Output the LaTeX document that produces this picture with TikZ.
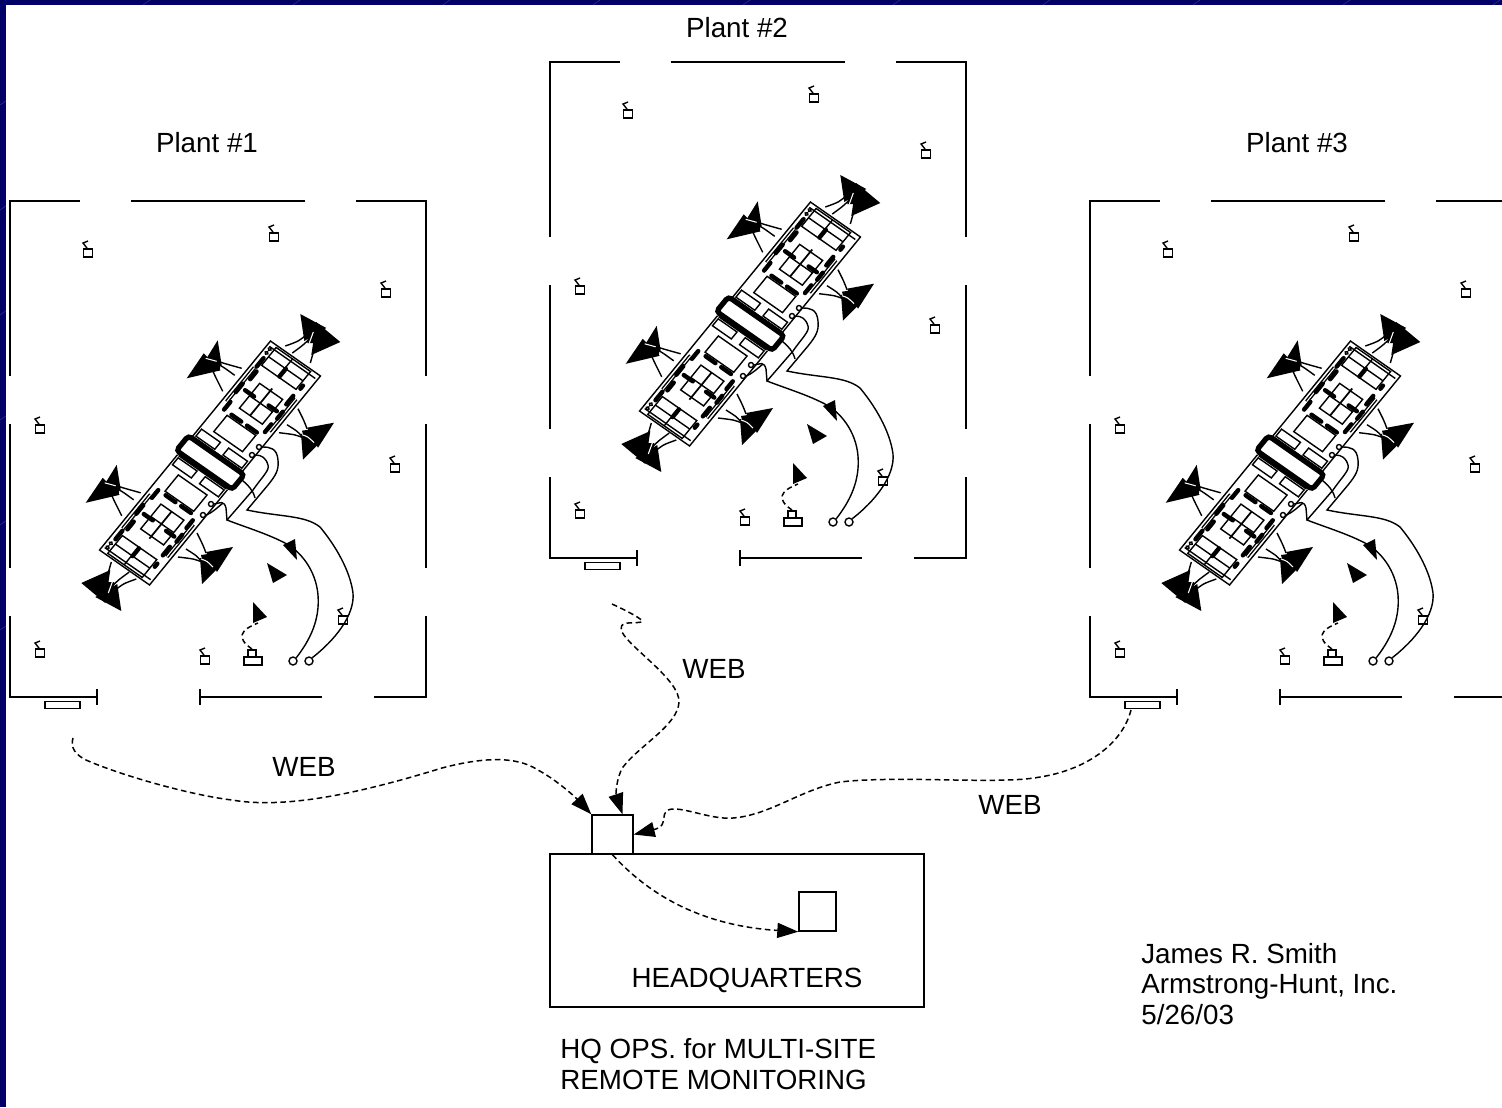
\documentclass[tikz,border=0pt]{standalone}
\usepackage{fontspec}
\setmainfont{Liberation Sans}
\usetikzlibrary{arrows.meta}
\definecolor{slidenavy}{RGB}{0,0,102}
\definecolor{slidestreak}{RGB}{50,50,140}
\tikzset{
  wire/.style={line width=.8pt},
  thinwire/.style={line width=.8pt},
  pill/.style={line width=2.5pt, line cap=round},
  webline/.style={line width=.85pt, dash pattern=on 3.2pt off 2pt,
    -{Triangle[length=.42cm, width=.3cm]}},
  hmiline/.style={line width=.85pt, dash pattern=on 3pt off 2pt},
  tagtext/.style={font=\fontsize{15.8}{17.6}\selectfont, inner sep=0pt},
  sensor/.style={draw, circle, line width=.8pt, minimum size=.16cm, inner sep=0pt},
  port/.style={draw, circle, line width=.8pt, fill=white, minimum size=.1cm, inner sep=0pt},
  consolebox/.style={draw, line width=.8pt, minimum width=.7cm, minimum height=.15cm, inner sep=0pt},
  camera/.pic={
    \draw[thinwire] (-4.5,-4) rectangle (4.5,4);
    \draw[thinwire] (0,-12) -- (-5,-10) -- (-1,-5);
  },
  fanleft/.pic={
    \fill (6,-23) -- (10,2) -- (-7,-2) -- cycle;
    \fill (-25,15) -- (-8,-10) -- (9,7) -- cycle;
    \fill (-6,-6) -- (9,0) -- (8,7) -- (-4,8) -- cycle;
    \draw[wire] (3,-3) .. controls (12,0) .. (30,5);
    \draw[wire] (5,0) .. controls (12,4) .. (23,12);
    \draw[wire] (-1,3) .. controls (3,12) .. (11,28);
    \draw[white, line width=.6pt] (-6,-5) .. controls (0,-4) .. (5,-2);
  },
  fanright/.pic={
    \fill (24,-14) -- (-3,-9) -- (8,11) -- cycle;
    \fill (-7,23) -- (-9,-3) -- (13,3) -- cycle;
    \fill (-8,-6) -- (6,-8) -- (8,6) -- (-4,10) -- cycle;
    \draw[wire] (-5,2) .. controls (-14,-2) .. (-31,-4);
    \draw[wire] (-8,0) .. controls (-12,-5) .. (-23,-12);
    \draw[wire] (-3,-8) .. controls (-6,-16) .. (-12,-28);
    \draw[white, line width=.6pt] (-8,-2) .. controls (-2,0) .. (4,6);
  },
  fanend/.pic={
    \fill (-13,-21) -- (13,-7) -- (-9,6) -- cycle;
    \fill (27,7) -- (3,-13) -- (-2,20) -- cycle;
    \fill (-4,-8) -- (8,-6) -- (6,8) -- (-6,8) -- cycle;
    \draw[wire] (-5,-2) .. controls (-14,6) .. (-28,11);
    \draw[wire] (-3,3) .. controls (-10,10) .. (-21,18);
    \draw[wire] (3,3) .. controls (1,14) .. (-3,28);
    \draw[white, line width=.6pt] (0,-3) .. controls (-2,2) .. (-4,8);
  },
  plant/.pic={
    % walls
    \draw[wire] (10,376) -- (10,201) -- (80,201);
    \draw[wire] (131,201) -- (305,201);
    \draw[wire] (356,201) -- (426,201) -- (426,376);
    \draw[wire] (10,424) -- (10,568);
    \draw[wire] (426,424) -- (426,568);
    \draw[wire] (10,616) -- (10,697) -- (97,697);
    \draw[wire] (97,689) -- (97,705);
    \draw[wire] (200,689) -- (200,705);
    \draw[wire] (200,697) -- (322,697);
    \draw[wire] (374,697) -- (426,697) -- (426,616);
    \node[consolebox] (-console) at (62.5,705) {};
    % cameras
    \foreach \cpos in {(88,253),(274,237),(386,293),(40,429),(395,468),(40,653),(205,660),(343,620)}
      \pic at \cpos {camera};
    % hmi station
    \draw[thinwire] (244,657) rectangle (262,665);
    \draw[thinwire] (248,650) rectangle (256,657);
    \draw[hmiline] (252,649) .. controls (236,638) and (240,630) .. (258,623);
    \fill (253,602) -- (267,617) -- (253,623) -- cycle;
    \fill (267,563) -- (287,575) -- (273,583) -- cycle;
    \fill (283,545) -- (295,539) -- (297,560) -- cycle;
    % machine
    \foreach \side in {1,-1}{
      \pgfmathsetmacro\ua{\side*.633}
      \pgfmathsetmacro\ub{\side*.774}
      \begin{scope}[cm={\ua,\ub,-.82,.573,(210,463)}]
        \draw[thinwire] (12,-30.5) -- (135,-30.5) -- (135,30.5) -- (12,30.5);
        \draw[thinwire] (12,-29) -- (12,29);
        \draw[thinwire] (14,-28) rectangle (23,-5);
        \draw[thinwire] (14,5) rectangle (23,28);
        \draw[thinwire] (28,-17) rectangle (49,18);
        \draw[pill] (52,-14) -- (52,-2);
        \draw[pill] (52,5) -- (52,17);
        \draw[pill] (52,-23) -- (62,-23);
        \draw[pill] (57,23) -- (67,23);
        % middle grid
        \draw[thinwire] (62,-12) rectangle (94,16);
        \draw[thinwire] (78,-12) -- (78,16);
        \draw[line width=1pt] (62,1) -- (97,1);
        \draw[thinwire, double, double distance=.6pt] (60,-26) -- (104,-26);
        \draw[thinwire, double, double distance=.6pt] (60,26) -- (102,26);
        \draw[pill] (80,-19) -- (80,-8);
        \draw[pill] (73,-25) -- (84,-25);
        \draw[pill] (81,9) -- (81,19);
        \draw[pill] (75,24) -- (84,24);
        \draw[pill] (92,22) -- (103,22);
        \draw[pill] (92,-22) -- (102,-22);
        % end box
        \draw[thinwire] (130,-28) -- (130,28);
        \draw[thinwire] (110,-22) rectangle (133,20);
        \draw[thinwire] (121,-22) -- (121,20);
        \draw[thinwire] (110,-2) -- (133,-2);
        \draw[pill] (106,-25) -- (117,-25);
        \draw[pill] (111,-1) -- (121,-1);
        \draw[pill] (113,23) -- (117,23);
        \draw[thinwire, fill=white] (123,-26) circle (1.6);
        \draw[thinwire, fill=white] (128,-26) circle (1.6);
      \end{scope}
    }
    \begin{scope}[cm={.633,.774,-.82,.573,(210,463)}]
      \draw[line width=3pt, rounded corners=2pt] (-9,-34) rectangle (10,34);
    \end{scope}
    % fans
    \pic at (211.7,363.3) {fanleft};
    \pic at (110.7,487.8) {fanleft};
    \pic at (310,436.7) {fanright};
    \pic at (209,561) {fanright};
    \pic at (313.3,335) {fanend};
    \pic[rotate=180] at (108.3,590) {fanend};
    % cables
    \node[port] (-porta) at (259,447) {};
    \node[port] (-portb) at (252,455) {};
    \node[port] (-portc) at (211,504) {};
    \node[port] (-portd) at (203,515) {};
    \node[sensor] (-senseone) at (293,661) {};
    \node[sensor] (-sensetwo) at (309,661) {};
    \draw[wire] (-senseone.north east) .. controls (310,640) and (320,620) .. (318,595)
      .. controls (316,570) and (300,550) .. (283,542) .. controls (265,533) and (245,527) .. (227,520)
      -- (253,490) .. controls (262,477) and (270,470) .. (268,465) .. controls (266,458) and (262,455) .. (-portb.east);
    \draw[wire] (-sensetwo.north east) .. controls (335,640) and (355,615) .. (353,593)
      .. controls (350,570) and (335,545) .. (320,527) .. controls (305,515) and (280,517) .. (247,510)
      -- (268,485) .. controls (276,475) and (279,470) .. (278,460) .. controls (277,448) and (270,447) .. (-porta.east);
    \draw[wire] (-portc.east) .. controls (220,503) and (224,500) .. (226,508) -- (227,520);
    \draw[wire] (-portd.east) .. controls (212,513) and (218,507) .. (223,503);
    \draw[wire] (242,480) .. controls (248,485) and (253,490) .. (255,498);
  }
}
\begin{document}
\begin{tikzpicture}[x=.02cm, y=-.02cm]
\useasboundingbox (0,0) rectangle (1502,1107);
\fill[slidenavy] (0,0) rectangle (1502,1107);
\foreach \k in {0,150,...,1800}
  \draw[slidestreak, line width=.3pt] (\k,0) -- (\k-1000,700);
\fill[white] (6,5) rectangle (1502,1107);

\pic (plantone) at (0,0) {plant};
\pic (planttwo) at (540,-139) {plant};
\pic (plantthree) at (1080,0) {plant};

\node[tagtext] (labelone) at (207,143) {Plant \#1};
\node[tagtext] (labeltwo) at (737,28) {Plant \#2};
\node[tagtext] (labelthree) at (1297,143) {Plant \#3};
\node[tagtext] (webone) at (304,767) {WEB};
\node[tagtext] (webtwo) at (714,669) {WEB};
\node[tagtext] (webthree) at (1010,805) {WEB};

% headquarters
\node[draw, wire, minimum width=7.48cm, minimum height=3.06cm, inner sep=0pt] (hq) at (737,930.5) {};
\node[draw, wire, minimum width=.82cm, minimum height=.78cm, inner sep=0pt] (gateway) at (612.5,834.5) {};
\node[draw, wire, minimum width=.74cm, minimum height=.78cm, inner sep=0pt] (monitor) at (817.5,911.5) {};
\node[tagtext] (hqname) at (747,980) {HEADQUARTERS};
\node[tagtext, anchor=west, align=left] (hqnote) at (560,1064.5) {HQ OPS. for MULTI-SITE\\REMOTE MONITORING};
\node[tagtext, anchor=west, align=left] (credit) at (1141,984) {James R. Smith\\Armstrong-Hunt, Inc.\\5/26/03};

% web links
\coordinate (startone) at (73,738);
\coordinate (starttwo) at (612,604);
\coordinate (startthree) at (1131,710);
\draw[webline] (startone) .. controls (70,748) and (76,755) .. (86,760)
  .. controls (120,775) and (190,795) .. (232,800) .. controls (290,810) and (370,790) .. (442,768)
  .. controls (480,758) and (515,755) .. (538,770) .. controls (560,782) and (578,800) .. (gateway.north west);
\draw[webline] (starttwo) .. controls (625,610) and (645,620) .. (642,622) .. controls (630,624) and (618,620) .. (622,632)
  .. controls (630,648) and (680,680) .. (679,702) .. controls (678,725) and (640,745) .. (623,767)
  .. controls (616,778) and (616,795) .. ([xshift=.2cm]gateway.north);
\draw[webline] (startthree) .. controls (1122,745) and (1085,770) .. (1040,777)
  .. controls (1000,785) and (900,775) .. (840,782) .. controls (800,790) and (770,815) .. (733,818)
  .. controls (710,820) and (680,805) .. (668,810) .. controls (660,815) and (668,825) .. (656,829) -- (gateway.east);
\draw[webline] (gateway.south) .. controls (640,885) and (690,925) .. (monitor.south west);
\end{tikzpicture}
\end{document}
